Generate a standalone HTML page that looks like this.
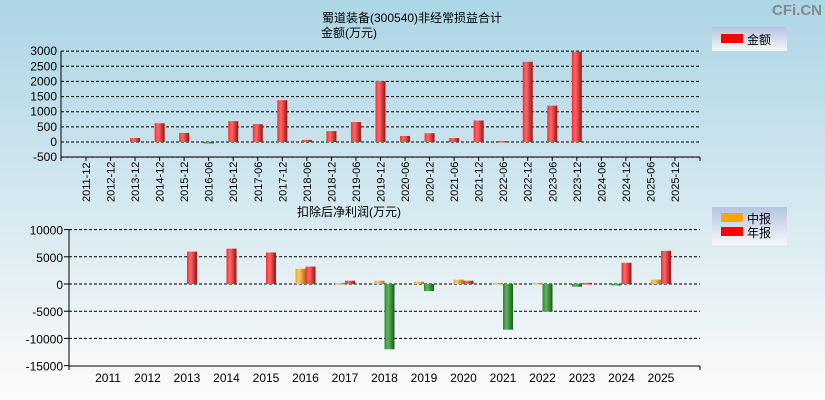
<!DOCTYPE html>
<html><head><meta charset="utf-8">
<style>
html,body{margin:0;padding:0;width:825px;height:400px;overflow:hidden;}
html{background:#fdfbfa;}
body{background:linear-gradient(#acd5e5 0%,#d4e8f0 50%,#fdfbfa 100%);font-family:"Liberation Sans","Noto Sans CJK SC",sans-serif;}
svg{display:block;}
svg text{font-family:"Liberation Sans","Noto Sans CJK SC",sans-serif;}
</style></head>
<body>
<svg id="c" width="825" height="400" xmlns="http://www.w3.org/2000/svg">
<defs>
<linearGradient id="gr" x1="0" x2="1"><stop offset="0" stop-color="#ff2a2a"/><stop offset="0.35" stop-color="#ff6a6a"/><stop offset="1" stop-color="#a01010"/></linearGradient>
<linearGradient id="gg" x1="0" x2="1"><stop offset="0" stop-color="#2a8a2a"/><stop offset="0.35" stop-color="#5fb55f"/><stop offset="1" stop-color="#1a5a1a"/></linearGradient>
<linearGradient id="go" x1="0" x2="1"><stop offset="0" stop-color="#f5a623"/><stop offset="0.35" stop-color="#ffc860"/><stop offset="1" stop-color="#b07010"/></linearGradient>
<linearGradient id="lg" x1="0" y1="0" x2="0" y2="1"><stop offset="0" stop-color="#b4c4e0"/><stop offset="1" stop-color="#f6f6f8"/></linearGradient>
</defs>
<text x="822" y="15" text-anchor="end" font-size="15" font-weight="bold" fill="#888">CFi.CN</text>
<text x="322" y="22" font-size="12">蜀道装备(300540)非经常损益合计</text>
<text x="321" y="37" font-size="12">金额(万元)</text>
<g>
<rect x="712" y="27" width="75" height="24" fill="url(#lg)"/>
<rect x="721" y="34" width="22" height="9" fill="#f00"/>
<text x="747" y="44" font-size="12">金额</text>
</g>
<text x="297" y="216" font-size="12">扣除后净利润(万元)</text>
<g>
<rect x="712" y="207" width="75" height="38" fill="url(#lg)"/>
<rect x="721" y="213" width="22" height="9" fill="#ffa500"/>
<text x="747" y="223" font-size="12">中报</text>
<rect x="721" y="227" width="22" height="9" fill="#f00"/>
<text x="747" y="237" font-size="12">年报</text>
</g>
<g id="top"></g><g id="bot"></g>
</svg>
<script>
const topCats=["2011-12","2012-12","2013-12","2014-12","2015-12","2016-06","2016-12","2017-06","2017-12","2018-06","2018-12","2019-06","2019-12","2020-06","2020-12","2021-06","2021-12","2022-06","2022-12","2023-06","2023-12","2024-06","2024-12","2025-06","2025-12"];
const topVals=[0,0,130,620,300,-30,690,590,1380,70,360,660,2010,200,290,130,710,30,2650,1200,2980,0,0,0,0];
const topTicks=[3000,2500,2000,1500,1000,500,0,-500];
const botYears=["2011","2012","2013","2014","2015","2016","2017","2018","2019","2020","2021","2022","2023","2024","2025"];
const botHalf=[0,0,0,0,0,2800,200,600,400,800,200,200,-500,-150,800];
const botAnnual=[0,0,5950,6500,5800,3200,600,-12000,-1300,600,-8400,-5100,200,3900,6100];
const botTicks=[10000,5000,0,-5000,-10000,-15000];
const NS="http://www.w3.org/2000/svg";
function mk(p,t,a){const e=document.createElementNS(NS,t);for(const k in a)e.setAttribute(k,a[k]);p.appendChild(e);return e;}
const T=document.getElementById('top');
const tx0=61,tx1=700,ty=v=>142-(v)*(106/3500);
const tX=i=>86+i*24.54;
topTicks.forEach(v=>{
 const y=ty(v);
 const g=mk(T,'line',{x1:tx0,x2:tx1,y1:y,y2:y,stroke:'#000','stroke-dasharray':'3,2','stroke-width':1});
 
 
 const t=mk(T,'text',{x:tx0-4,y:y+4,'text-anchor':'end','font-size':12});
 t.textContent=v;
 
 
});
mk(T,'line',{x1:tx0,x2:tx0,y1:51,y2:161,stroke:'#000'});
mk(T,'line',{x1:tx0,x2:tx1,y1:157,y2:157,stroke:'#000'});
topCats.forEach((c,i)=>{
 const x=tX(i);
 mk(T,'line',{x1:x,x2:x,y1:157,y2:161,stroke:'#000'});
 const t=mk(T,'text',{transform:`translate(${x+4},202) rotate(-90)`,'font-size':11});
 t.textContent=c;
 
 
 const v=topVals[i];
 if(v!==0){
  const y0=ty(0),y1=ty(v);
  const r=mk(T,'rect',{x:x-5,y:Math.min(y0,y1),width:10,height:Math.max(1.5,Math.abs(y1-y0)),fill:v>=0?'url(#gr)':'url(#gg)'});
  
  
 }
});
mk(T,'line',{x1:tx1,x2:tx1,y1:157,y2:161,stroke:'#000'});
const B=document.getElementById('bot');
const bx0=69,bx1=700,by=v=>284-v*(136/25000);
const bX=i=>108+i*39.5;
botTicks.forEach(v=>{
 const y=by(v);
 if(v>-15000){
 const g=mk(B,'line',{x1:bx0,x2:bx1,y1:y,y2:y,stroke:'#000','stroke-dasharray':'3,2'});
 
 }
 mk(B,'line',{x1:bx0-5,x2:bx0,y1:y,y2:y,stroke:'#000'});
 const t=mk(B,'text',{x:bx0-6,y:y+5,'text-anchor':'end','font-size':12});
 t.textContent=v;
 
 
});
mk(B,'line',{x1:bx0,x2:bx0,y1:230,y2:370,stroke:'#000'});
mk(B,'line',{x1:bx0,x2:bx1,y1:366,y2:366,stroke:'#000'});
mk(B,'line',{x1:bx1,x2:bx1,y1:366,y2:370,stroke:'#000'});
botYears.forEach((yr,i)=>{
 const x=bX(i);
 const t=mk(B,'text',{x:x,y:382,'text-anchor':'middle','font-size':12});
 t.textContent=yr;
 
 
 [[botHalf[i],x-10,'url(#go)','half'],[botAnnual[i],x,'url(#gr)','annual']].forEach(([v,bx,f,n])=>{
  if(v===0)return;
  const y0=by(0),y1=by(v);
  const r=mk(B,'rect',{x:bx,y:Math.min(y0,y1),width:10,height:Math.max(1.5,Math.abs(y1-y0)),fill:v>=0?f:'url(#gg)'});
  
  
 });
});
</script>
</body></html>
